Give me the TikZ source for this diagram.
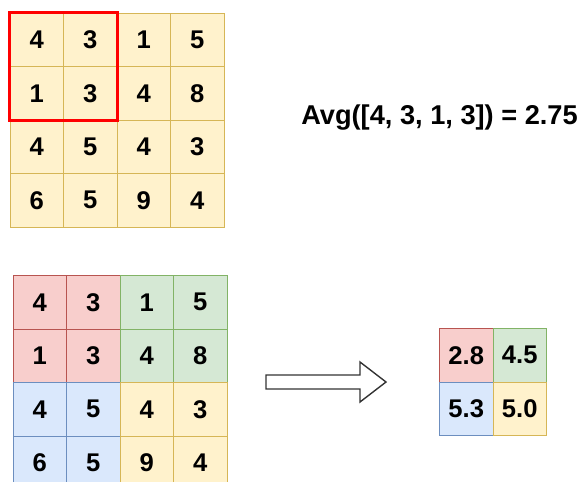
\documentclass[tikz,border=0pt]{standalone}
\usepackage{fontspec}
\setmainfont{Liberation Sans}
\definecolor{yelfill}{HTML}{FFF2CC}
\definecolor{yeldraw}{HTML}{D6B656}
\definecolor{redfill}{HTML}{F8CECC}
\definecolor{reddraw}{HTML}{B85450}
\definecolor{grnfill}{HTML}{D5E8D4}
\definecolor{grndraw}{HTML}{82B366}
\definecolor{blufill}{HTML}{DAE8FC}
\definecolor{bludraw}{HTML}{6C8EBF}
\begin{document}
\begin{tikzpicture}[x=0.5pt, y=-0.5pt,
    cell/.style={draw, line width=0.5pt, minimum size=26.75pt, inner sep=0pt,
        font=\fontsize{12.8}{14}\selectfont\bfseries},
    ycell/.style={cell, fill=yelfill, draw=yeldraw},
    rcell/.style={cell, fill=redfill, draw=reddraw},
    gcell/.style={cell, fill=grnfill, draw=grndraw},
    bcell/.style={cell, fill=blufill, draw=bludraw}]
    \clip (0,0) rectangle (579,482);

    % input grid
    \node[ycell] (t11) at (36.75,39.75) {4};
    \node[ycell] (t12) at (90.25,39.75) {3};
    \node[ycell] (t13) at (143.75,39.75) {1};
    \node[ycell] (t14) at (197.25,39.75) {5};
    \node[ycell] (t21) at (36.75,93.25) {1};
    \node[ycell] (t22) at (90.25,93.25) {3};
    \node[ycell] (t23) at (143.75,93.25) {4};
    \node[ycell] (t24) at (197.25,93.25) {8};
    \node[ycell] (t31) at (36.75,146.75) {4};
    \node[ycell] (t32) at (90.25,146.75) {5};
    \node[ycell] (t33) at (143.75,146.75) {4};
    \node[ycell] (t34) at (197.25,146.75) {3};
    \node[ycell] (t41) at (36.75,200.25) {6};
    \node[ycell] (t42) at (90.25,200.25) {5};
    \node[ycell] (t43) at (143.75,200.25) {9};
    \node[ycell] (t44) at (197.25,200.25) {4};

    \draw[red, line width=1.5pt] (t11.north west) rectangle (t22.south east);

    \node[font=\fontsize{13.6}{15}\selectfont\bfseries] (avg) at (439.5,118) {Avg([4, 3, 1, 3]) = 2.75};

    % pooled grid
    \node[rcell] (b11) at (39.75,302.25) {4};
    \node[rcell] (b12) at (93.25,302.25) {3};
    \node[gcell] (b13) at (146.75,302.25) {1};
    \node[gcell] (b14) at (200.25,302.25) {5};
    \node[rcell] (b21) at (39.75,355.75) {1};
    \node[rcell] (b22) at (93.25,355.75) {3};
    \node[gcell] (b23) at (146.75,355.75) {4};
    \node[gcell] (b24) at (200.25,355.75) {8};
    \node[bcell] (b31) at (39.75,409.25) {4};
    \node[bcell] (b32) at (93.25,409.25) {5};
    \node[ycell] (b33) at (146.75,409.25) {4};
    \node[ycell] (b34) at (200.25,409.25) {3};
    \node[bcell] (b41) at (39.75,462.75) {6};
    \node[bcell] (b42) at (93.25,462.75) {5};
    \node[ycell] (b43) at (146.75,462.75) {9};
    \node[ycell] (b44) at (200.25,462.75) {4};

    \draw[fill=white, draw=black!80, line width=0.7pt]
        (266,375) -- (360,375) -- (360,362) -- (386,382) -- (360,402) -- (360,389) -- (266,389) -- cycle;

    \node[rcell] (o11) at (466.25,355.25) {2.8};
    \node[gcell] (o12) at (519.75,355.25) {4.5};
    \node[bcell] (o21) at (466.25,408.75) {5.3};
    \node[ycell] (o22) at (519.75,408.75) {5.0};
\end{tikzpicture}
\end{document}
